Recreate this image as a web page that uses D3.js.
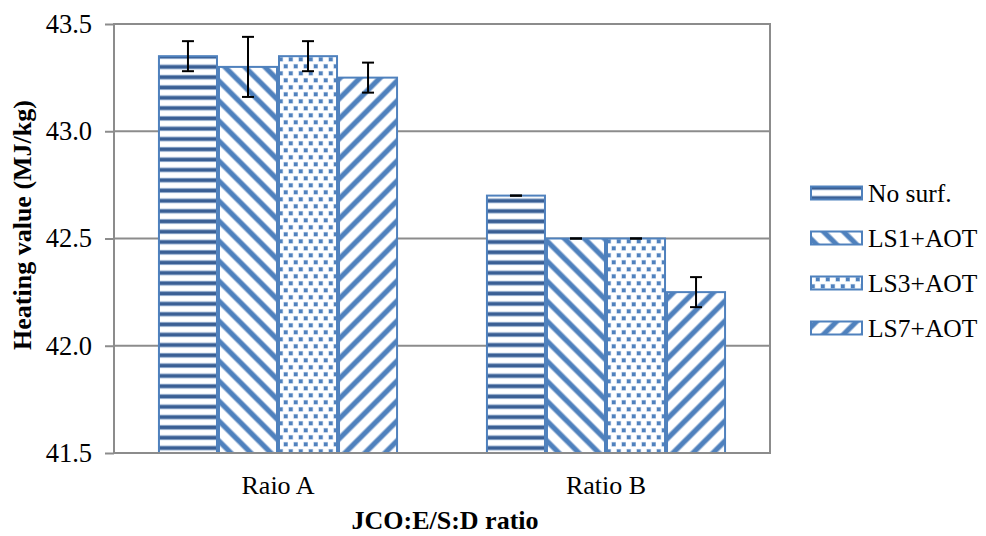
<!DOCTYPE html>
<html>
<head>
<meta charset="utf-8">
<script src="https://cdn.jsdelivr.net/npm/d3@7"></script>
<style>
  html, body { margin: 0; padding: 0; background: #fff; font-family: "Liberation Serif"; }
  svg { display: block; font-family: "Liberation Serif"; }
</style>
</head>
<body>
<svg id="heat" width="986" height="536" font-family="Liberation Serif"></svg>
<script>
// Data
const categories = ["Raio A", "Ratio B"];
const seriesNames = ["No surf.", "LS1+AOT", "LS3+AOT", "LS7+AOT"];
const noSurf = [43.35, 42.70];
const ls1Aot = [43.30, 42.50];
const ls3Aot = [43.35, 42.50];
const ls7Aot = [43.25, 42.25];
const errNoSurf = [0.07, 0.00];
const errLs1 = [0.14, 0.00];
const errLs3 = [0.07, 0.00];
const errLs7 = [0.07, 0.07];
const yTicks = [41.5, 42.0, 42.5, 43.0, 43.5];

const seriesValues = [noSurf, ls1Aot, ls3Aot, ls7Aot];
const seriesErrors = [errNoSurf, errLs1, errLs3, errLs7];
const patternIds = ["pat-h", "pat-bs", "pat-dots", "pat-fs"];

const svg = d3.select("#heat");
const plot = { left: 114, right: 770, top: 24, bottom: 453 };

const blue = "#4F81BD";
const darkBlue = "#3A5F94";
const grid = "#8C8C8C";

function styleText(sel, size, bold) {
  return sel.attr("font-family", "Liberation Serif")
    .attr("font-size", size)
    .attr("font-weight", bold ? "bold" : null)
    .attr("fill", "#000");
}

// Fill patterns
const defs = svg.append("defs");

// horizontal stripes
const ph = defs.append("pattern").attr("id", "pat-h")
  .attr("patternUnits", "userSpaceOnUse").attr("width", 10).attr("height", 10.3);
ph.append("rect").attr("width", 10).attr("height", 10.3).attr("fill", "#fff");
ph.append("rect").attr("y", 2.6).attr("width", 10).attr("height", 5).attr("fill", "#A8BEDB");
ph.append("rect").attr("y", 3.4).attr("width", 10).attr("height", 3.4).attr("fill", darkBlue);

// diagonal stripes, drawn inside a square tile
function diagPattern(id, d) {
  const p = defs.append("pattern").attr("id", id)
    .attr("patternUnits", "userSpaceOnUse").attr("width", 20).attr("height", 20);
  p.append("rect").attr("width", 20).attr("height", 20).attr("fill", "#fff");
  p.append("path").attr("d", d).attr("stroke", "#B3C7E2").attr("stroke-width", 6.2).attr("fill", "none");
  p.append("path").attr("d", d).attr("stroke", blue).attr("stroke-width", 4.4).attr("fill", "none");
}
diagPattern("pat-bs", "M-5,-5L25,25M-5,15L5,25M15,-5L25,5");
diagPattern("pat-fs", "M-5,25L25,-5M-5,5L5,-5M15,25L25,15");

// dotted
const pd = defs.append("pattern").attr("id", "pat-dots")
  .attr("patternUnits", "userSpaceOnUse").attr("width", 10).attr("height", 14);
pd.append("rect").attr("width", 10).attr("height", 14).attr("fill", "#fff");
[[1, 1.5], [6, 8.5]].forEach(([x, y]) => {
  pd.append("rect").attr("x", x - 0.6).attr("y", y - 0.6).attr("width", 4.8).attr("height", 4.8).attr("fill", "#BCD0E8");
  pd.append("rect").attr("x", x).attr("y", y).attr("width", 3.6).attr("height", 3.6).attr("fill", blue);
});

// Scales
const y = d3.scaleLinear().domain([41.5, 43.5]).range([plot.bottom, plot.top]);
const x0 = d3.scaleBand().domain(categories).range([plot.left, plot.right])
  .paddingInner(0.268).paddingOuter(0.134);
const x1 = d3.scaleBand().domain(seriesNames).range([0, x0.bandwidth()]);

// Gridlines
svg.append("g").selectAll("line").data(yTicks.filter(t => t > 41.5 && t < 43.5)).join("line")
  .attr("x1", plot.left).attr("x2", plot.right)
  .attr("y1", d => y(d)).attr("y2", d => y(d))
  .attr("stroke", grid).attr("stroke-width", 2);

// Y axis
const yAxis = d3.axisLeft(y).tickValues(yTicks).tickFormat(d3.format(".1f")).tickSize(9).tickPadding(13);
const gy = svg.append("g").attr("transform", `translate(${plot.left},0)`).call(yAxis);
gy.attr("font-family", "Liberation Serif").attr("font-size", 26.5);
gy.select(".domain").remove();
gy.selectAll(".tick line").attr("stroke", grid).attr("stroke-width", 2);
styleText(gy.selectAll(".tick text"), 26.5, false);

// Bars
const groups = svg.append("g").selectAll("g").data(categories).join("g")
  .attr("transform", d => `translate(${x0(d)},0)`);

groups.each(function (cat, ci) {
  const g = d3.select(this);
  seriesNames.forEach((s, si) => {
    const v = seriesValues[si][ci];
    g.append("rect")
      .attr("x", x1(s) + 1).attr("width", x1.bandwidth() - 2)
      .attr("y", y(v)).attr("height", y(41.5) - y(v))
      .attr("fill", `url(#${patternIds[si]})`)
      .attr("stroke", blue).attr("stroke-width", 2);
  });
});

// Plot frame
svg.append("rect")
  .attr("x", plot.left).attr("y", plot.top)
  .attr("width", plot.right - plot.left).attr("height", plot.bottom - plot.top)
  .attr("fill", "none").attr("stroke", grid).attr("stroke-width", 2);

// Error bars
groups.each(function (cat, ci) {
  const g = d3.select(this);
  seriesNames.forEach((s, si) => {
    const v = seriesValues[si][ci];
    const e = seriesErrors[si][ci];
    const cx = x1(s) + x1.bandwidth() / 2;
    const eg = g.append("g").attr("stroke", "#000").attr("stroke-width", 2);
    if (e > 0) {
      eg.append("line").attr("x1", cx).attr("x2", cx).attr("y1", y(v + e)).attr("y2", y(v - e));
    }
    [v + e, v - e].forEach(t => {
      eg.append("line").attr("x1", cx - 6).attr("x2", cx + 6).attr("y1", y(t)).attr("y2", y(t));
    });
  });
});

// Category labels
styleText(svg.append("g").selectAll("text").data(categories).join("text")
  .attr("x", d => x0(d) + x0.bandwidth() / 2).attr("y", 494)
  .attr("text-anchor", "middle").text(d => d), 26, false);

// Axis titles
styleText(svg.append("text").attr("x", 445).attr("y", 529).attr("text-anchor", "middle")
  .text("JCO:E/S:D ratio"), 26, true);
styleText(svg.append("text").attr("transform", "translate(31,225) rotate(-90)")
  .attr("text-anchor", "middle").text("Heating value (MJ/kg)"), 26, true);

// Legend
const legend = svg.append("g").selectAll("g").data(seriesNames).join("g")
  .attr("transform", (d, i) => `translate(810,${193 + i * 45})`);
legend.append("rect").attr("x", 1).attr("y", -6.5).attr("width", 51).attr("height", 13)
  .attr("fill", (d, i) => `url(#${patternIds[i]})`).attr("stroke", blue).attr("stroke-width", 2);
styleText(legend.append("text").attr("x", 58).attr("y", 8.5).text(d => d), 25.5, false);
</script>
</body>
</html>
